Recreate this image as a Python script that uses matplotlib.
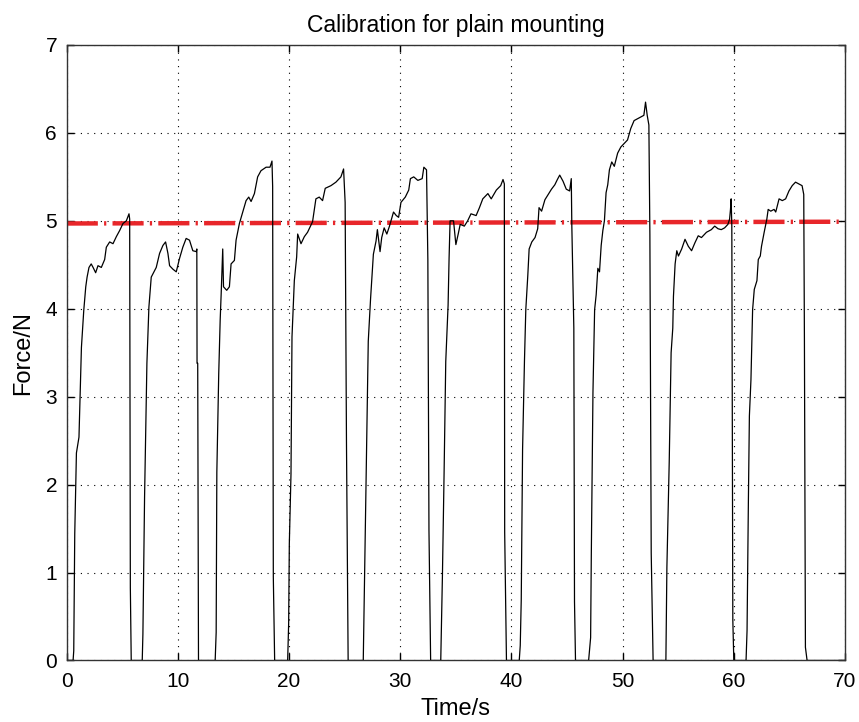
import matplotlib
matplotlib.use("Agg")
import matplotlib.pyplot as plt

# force trace (t in s, F in N)
time = [
    0.0, 0.57, 0.63, 0.72, 0.87, 1.1, 1.32, 1.53, 1.71, 1.83, 2.0, 2.2, 2.37, 2.6, 2.81, 3.11, 3.41,
    3.56, 3.86, 4.16, 4.46, 4.76, 5.06, 5.36, 5.6, 5.66, 5.72, 5.8,
    # cycle 2
    6.79, 6.85, 7.0, 7.21, 7.39, 7.6, 8.05, 8.35, 8.65, 8.89, 9.1, 9.25, 9.55, 9.85, 10.14,
    10.44, 10.74, 11.04, 11.34, 11.65, 11.7, 11.72, 11.78, 11.85,
    # cycle 3
    13.35, 13.44, 13.5, 13.67, 13.8, 13.89, 14.03, 14.1, 14.39, 14.63, 14.78, 15.08, 15.23,
    15.53, 15.83, 16.13, 16.37, 16.58, 16.88, 17.17, 17.47, 17.93, 18.28, 18.46, 18.52, 18.58, 18.7,
    # cycle 4
    19.87, 19.96, 20.02, 20.17, 20.26, 20.47, 20.68, 20.77, 21.07, 21.37, 21.66, 22.11, 22.41,
    22.71, 23.01, 23.25, 23.76, 24.21, 24.66, 24.9, 25.04, 25.16, 25.31,
    # cycle 5
    26.67, 26.82, 26.97, 27.12, 27.33, 27.58, 27.82, 27.94, 28.18, 28.33, 28.55, 28.79, 29.03,
    29.39, 29.64, 29.85, 30.06, 30.45, 30.76, 30.91, 31.21, 31.58, 31.97, 32.12, 32.36, 32.48,
    32.58, 32.73,
    # cycle 6
    33.64, 33.79, 33.94, 34.09, 34.24, 34.3, 34.39, 34.48, 34.79, 35.0, 35.21, 35.39, 35.76,
    36.06, 36.36, 36.82, 37.12, 37.42, 37.88, 38.18, 38.64, 39.03, 39.24, 39.36, 39.39, 39.55,
    # cycle 7
    40.7, 40.79, 40.88, 41.0, 41.17, 41.29, 41.47, 41.59, 41.83, 42.12, 42.36, 42.48, 42.71,
    43.01, 43.3, 43.6, 43.9, 44.13, 44.34, 44.64, 44.93, 45.23, 45.38, 45.43, 45.61, 45.67, 45.76,
    # cycle 8
    46.94, 47.12, 47.18, 47.33, 47.48, 47.62, 47.77, 47.92, 48.07, 48.22, 48.36, 48.51, 48.66,
    48.81, 49.02, 49.25, 49.55, 49.84, 50.14, 50.44, 50.73, 51.03, 51.32, 51.62, 51.91, 52.06,
    52.21, 52.36, 52.45, 52.57, 52.74,
    # cycle 9
    53.89, 53.98, 54.19, 54.36, 54.51, 54.57, 54.72, 54.87, 55.02, 55.31, 55.61, 55.91, 56.2,
    56.5, 56.8, 57.09, 57.54, 57.98, 58.28, 58.58, 58.87, 59.17, 59.47, 59.62, 59.7, 59.76,
    59.82, 59.91, 60.0,
    # cycle 10
    61.1, 61.19, 61.31, 61.4, 61.54, 61.69, 61.84, 62.08, 62.2, 62.38, 62.49, 62.73, 62.97,
    63.09, 63.32, 63.62, 63.77, 64.07, 64.36, 64.66, 64.96, 65.25, 65.55, 65.85, 66.14, 66.29,
    66.35, 66.44, 66.59, 70.0,
]
force = [
    0.0, 0.0, 0.11, 1.44, 2.36, 2.54, 3.56, 3.98, 4.25, 4.36, 4.47, 4.51, 4.47, 4.41, 4.49, 4.47, 4.56,
    4.70, 4.76, 4.74, 4.82, 4.89, 4.97, 5.00, 5.08, 5.02, 0.83, 0.0,
    0.0, 0.30, 1.86, 3.38, 4.02, 4.36, 4.47, 4.63, 4.72, 4.76, 4.63, 4.49, 4.45, 4.42, 4.57,
    4.70, 4.80, 4.78, 4.66, 4.65, 4.68, 3.38, 3.38, 0.0,
    0.0, 0.32, 2.14, 3.26, 3.87, 4.17, 4.68, 4.25, 4.21, 4.25, 4.51, 4.55, 4.78,
    4.97, 5.10, 5.23, 5.27, 5.22, 5.31, 5.50, 5.57, 5.61, 5.61, 5.68, 5.39, 0.95, 0.0,
    0.0, 0.42, 1.33, 2.12, 3.68, 4.32, 4.59, 4.85, 4.74, 4.82, 4.87, 4.99, 5.25,
    5.27, 5.23, 5.37, 5.40, 5.44, 5.50, 5.59, 5.21, 2.48, 0.0,
    0.0, 1.23, 2.52, 3.63, 4.12, 4.62, 4.77, 4.90, 4.65, 4.81, 4.92, 4.85, 4.94,
    5.10, 5.06, 5.04, 5.21, 5.27, 5.35, 5.48, 5.50, 5.46, 5.48, 5.61, 5.58, 4.56,
    1.48, 0.0,
    0.0, 0.96, 2.13, 3.40, 3.85, 4.04, 4.58, 5.00, 5.00, 4.73, 4.85, 4.96, 4.94,
    5.00, 5.08, 5.06, 5.15, 5.25, 5.31, 5.25, 5.35, 5.40, 5.47, 5.42, 1.46, 0.0,
    0.0, 0.17, 0.69, 2.40, 3.41, 3.99, 4.38, 4.68, 4.76, 4.81, 4.91, 5.15, 5.11,
    5.24, 5.30, 5.36, 5.41, 5.47, 5.52, 5.45, 5.36, 5.34, 5.48, 4.94, 3.78, 0.67, 0.0,
    0.0, 0.26, 1.18, 3.05, 3.99, 4.16, 4.46, 4.42, 4.72, 4.89, 5.00, 5.32, 5.41,
    5.58, 5.67, 5.62, 5.77, 5.84, 5.88, 5.92, 6.05, 6.14, 6.16, 6.18, 6.20, 6.35,
    6.20, 6.09, 4.85, 1.22, 0.0,
    0.0, 1.06, 2.26, 3.50, 3.78, 4.14, 4.51, 4.66, 4.60, 4.68, 4.79, 4.71, 4.66,
    4.75, 4.83, 4.81, 4.87, 4.90, 4.94, 4.91, 4.90, 4.92, 4.96, 5.02, 5.13, 5.25,
    4.94, 0.46, 0.0,
    0.0, 0.34, 1.81, 2.78, 3.19, 3.99, 4.22, 4.32, 4.56, 4.60, 4.71, 4.87, 5.02,
    5.13, 5.11, 5.13, 5.10, 5.25, 5.23, 5.25, 5.34, 5.40, 5.44, 5.42, 5.40, 5.30,
    3.65, 0.15, 0.0, 0.0,
]

# calibration level (red dash-dot line)
ref_time = [0.0, 70.0]
ref_force = [4.97, 4.99]

xticks = [0, 10, 20, 30, 40, 50, 60, 70]
yticks = [0, 1, 2, 3, 4, 5, 6, 7]

plt.rcParams['font.family'] = ['Liberation Sans', 'DejaVu Sans']

fig = plt.figure(figsize=(8.59, 7.22), dpi=100)
ax = fig.add_axes([0.0777, 0.0852, 0.906, 0.8525])

ax.plot(ref_time, ref_force, color='#e8262a', lw=3.2,
        dashes=(7.0, 1.4, 0.5, 1.4), dash_capstyle='butt', zorder=2)
ax.plot(time, force, color='black', lw=0.9, zorder=3)

ax.set_xlim(0, 70)
ax.set_ylim(0, 7)
ax.set_xticks(xticks)
ax.set_yticks(yticks)
ax.grid(True, color='black', linestyle=(0, (1, 5)), lw=0.8)

ax.tick_params(direction='in', top=True, right=True, length=5, width=1,
               labelsize=15, colors='black')
ax.tick_params(axis='x', pad=8)
ax.tick_params(axis='y', pad=7)
for s in ax.spines.values():
    s.set_linewidth(1.0)
    s.set_color('#333333')

ax.set_title('Calibration for plain mounting', fontsize=16.5, pad=9)
ax.set_xlabel('Time/s', fontsize=17, labelpad=5)
ax.set_ylabel('Force/N', fontsize=17, labelpad=8)

fig.savefig('out.png', dpi=100)
